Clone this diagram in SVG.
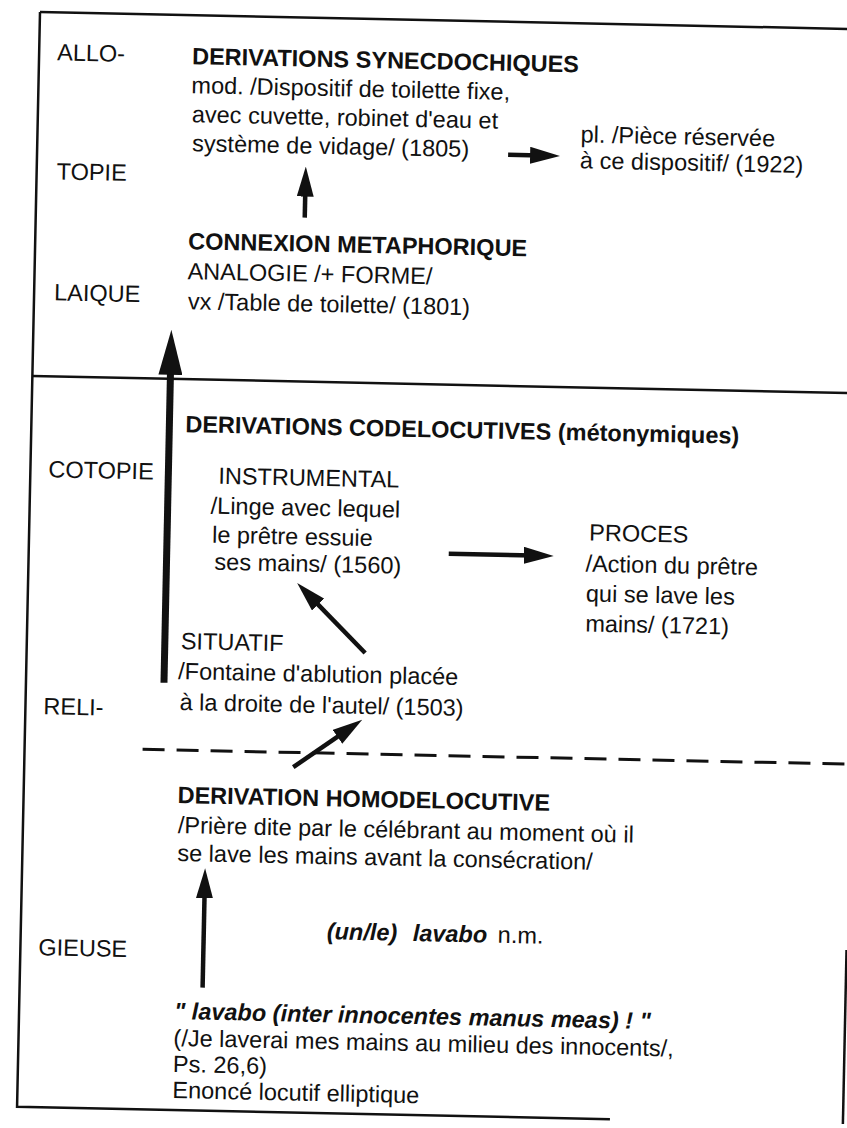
<svg xmlns="http://www.w3.org/2000/svg" width="847" height="1128" viewBox="0 0 847 1128">
<style>
text { font-family: "Liberation Sans", Arial, Helvetica, sans-serif; font-size: 23.5px; fill: #111; }
.b { font-weight: bold; }
.bi { font-weight: bold; font-style: italic; }
.frame { stroke: #111; stroke-width: 2.5; fill: none; }
.dash { stroke: #111; stroke-width: 3; stroke-dasharray: 22 12; fill: none; }
.arr { stroke: #111; stroke-width: 4.5; fill: none; marker-end: url(#ah); }
.big { stroke: #111; stroke-width: 7; fill: none; marker-end: url(#ahb); }
</style>
<defs>
<marker id="ah" viewBox="0 0 30 17" refX="10" refY="8.5" markerWidth="30" markerHeight="17" markerUnits="userSpaceOnUse" orient="auto"><path d="M0,0 L30,8.5 L0,17 Z" fill="#111"/></marker>
<marker id="ahb" viewBox="0 0 45 24" refX="12" refY="12" markerWidth="45" markerHeight="24" markerUnits="userSpaceOnUse" orient="auto"><path d="M0,0 L45,12 L0,24 Z" fill="#111"/></marker>
</defs>
<rect width="847" height="1128" fill="#fff"/>
<g transform="rotate(1.2 40 12)">
<g id="frame">
<path class="frame" d="M40,12 H900"/>
<path class="frame" d="M40,12 V1107 H633"/>
<path class="frame" d="M866,933 V1107"/>
<path class="frame" d="M40,376 H900"/>
<path class="dash" d="M158,747 H900"/>
</g>
<g id="levels">
<text x="58" y="60">ALLO-</text>
<text x="60" y="179">TOPIE</text>
<text x="60" y="300">LAIQUE</text>
<text x="58" y="477">COTOPIE</text>
<text x="58" y="714">RELI-</text>
<text x="58" y="955">GIEUSE</text>
</g>
<g id="synecdoche">
<text class="b" x="193" y="61">DERIVATIONS SYNECDOCHIQUES</text>
<text x="193" y="90">mod. /Dispositif de toilette fixe,</text>
<text x="194" y="119">avec cuvette, robinet d'eau et</text>
<text x="195" y="148">système de vidage/ (1805)</text>
</g>
<g id="piece">
<text x="583" y="131">pl. /Pièce réservée</text>
<text x="583" y="157">à ce dispositif/ (1922)</text>
</g>
<g id="metaphore">
<text class="b" x="193" y="246">CONNEXION METAPHORIQUE</text>
<text x="193" y="276">ANALOGIE /+ FORME/</text>
<text x="194" y="306">vx /Table de toilette/ (1801)</text>
</g>
<g id="codelocutives">
<text class="b" x="194" y="429">DERIVATIONS CODELOCUTIVES (métonymiques)</text>
</g>
<g id="instrumental">
<text x="228" y="480">INSTRUMENTAL</text>
<text x="221" y="510">/Linge avec lequel</text>
<text x="223" y="539">le prêtre essuie</text>
<text x="226" y="566">ses mains/ (1560)</text>
</g>
<g id="proces">
<text x="600" y="529">PROCES</text>
<text x="597" y="560">/Action du prêtre</text>
<text x="598" y="590">qui se lave les</text>
<text x="598" y="620">mains/ (1721)</text>
</g>
<g id="situatif">
<text x="194" y="646">SITUATIF</text>
<text x="192" y="676">/Fontaine d'ablution placée</text>
<text x="194" y="707">à la droite de l'autel/ (1503)</text>
</g>
<g id="homodelocutive">
<text class="b" x="194" y="800">DERIVATION HOMODELOCUTIVE</text>
<text x="195" y="830">/Prière dite par le célébrant au moment où il</text>
<text x="195" y="858">se lave les mains avant la consécration/</text>
</g>
<g id="lavabo">
<text x="346" y="933"><tspan class="bi">(un/le)</tspan><tspan class="bi" x="432">lavabo</tspan><tspan x="517">n.m.</tspan></text>
</g>
<g id="enonce">
<text class="bi" x="195" y="1016">" lavabo (inter innocentes manus meas) ! "</text>
<text x="195" y="1043">(/Je laverai mes mains au milieu des innocents/,</text>
<text x="195" y="1069">Ps. 26,6)</text>
<text x="195" y="1095">Enoncé locutif elliptique</text>
</g>
<g id="connectors">
<path class="big" d="M178,680 V360"/>
<path class="arr" d="M511,145 H543"/>
<path class="arr" d="M309,212 V181"/>
<path class="arr" d="M460,545 H545"/>
<path class="arr" d="M378.5,646 L323.3,591.6"/>
<path class="arr" d="M309,761.7 L360.7,724.6"/>
<path class="arr" d="M223,984 V884.6"/>
</g>
</g>
</svg>
